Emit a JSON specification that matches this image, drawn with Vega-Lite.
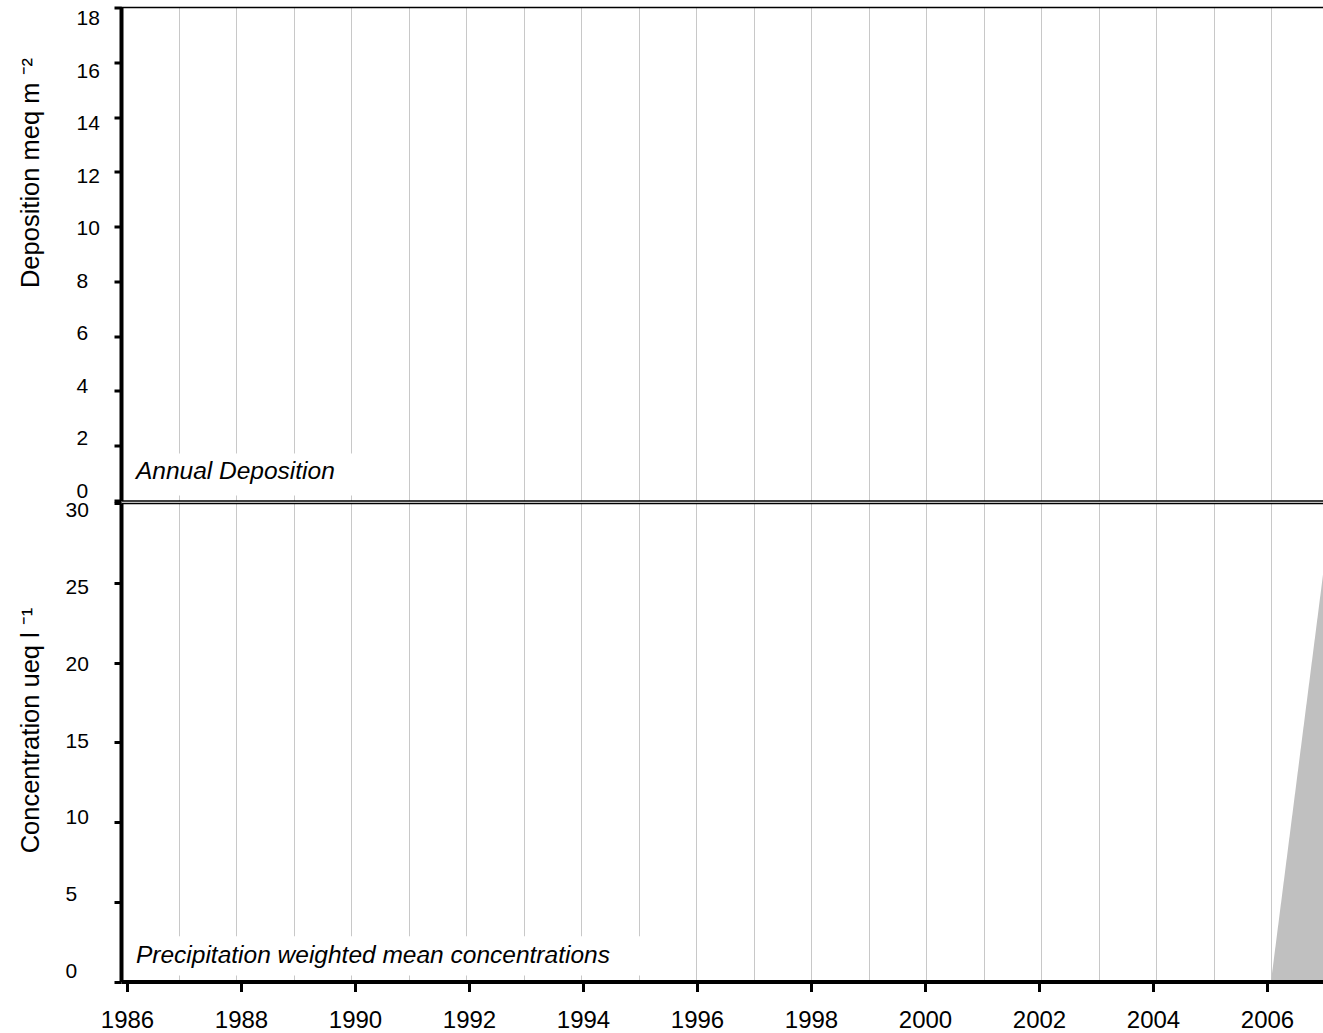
{
  "$schema": "https://vega.github.io/schema/vega-lite/v6.json",
  "autosize": {"type": "pad"},
  "padding": {"left": 18, "top": 5.5, "right": 0, "bottom": 0},
  "background": "white",
  "bounds": "flush",
  "datasets": {
    "concentration": [
      {"year": 2006, "value": 0},
      {"year": 2007, "value": 28.2}
    ],
    "notes": [
      {"panel": "deposition", "note": "Annual Deposition"},
      {"panel": "concentration", "note": "Precipitation weighted mean concentrations"}
    ]
  },
  "spacing": 2.5,
  "config": {
    "view": {"stroke": null},
    "font": "Liberation Sans",
    "axis": {
      "labelFont": "Liberation Sans",
      "titleFont": "Liberation Sans",
      "labelColor": "#000000",
      "titleColor": "#000000",
      "titleFontWeight": "normal",
      "domainColor": "#000000",
      "tickColor": "#000000",
      "gridColor": "#c8c8c8",
      "gridWidth": 1
    }
  },
  "vconcat": [
    {
      "width": 1203,
      "height": 493,
      "data": {"name": "notes"},
      "transform": [{"filter": "datum.panel == 'deposition'"}],
      "layer": [
        {
          "mark": {"type": "rect", "fill": "white"},
          "encoding": {
            "x": {
              "datum": 1986,
              "type": "quantitative",
              "scale": {"domain": [1986, 2006.9217], "nice": false, "zero": false},
              "axis": {
                "orient": "bottom",
                "values": [1986, 1987, 1988, 1989, 1990, 1991, 1992, 1993, 1994, 1995, 1996, 1997, 1998, 1999, 2000, 2001, 2002, 2003, 2004, 2005, 2006],
                "grid": true,
                "domain": true,
                "domainWidth": 1.3,
                "ticks": false,
                "labels": false,
                "title": null
              }
            },
            "x2": {"datum": 1990.15},
            "y": {
              "datum": 0.18,
              "type": "quantitative",
              "scale": {"domain": [0, 18], "nice": false},
              "axis": {
                "values": [0, 2, 4, 6, 8, 10, 12, 14, 16, 18],
                "grid": false,
                "domainWidth": 4,
                "tickSize": 7,
                "tickWidth": 3,
                "labelFontSize": 21,
                "labelAlign": "left",
                "labelBaseline": "middle",
                "labelPadding": 38,
                "labelOffset": {"expr": "-9.5 + 1.15 * datum.value"},
                "title": "Deposition meq m ⁻²",
                "titleFontSize": 25.5,
                "titleAngle": -90,
                "titleX": -83,
                "titleY": 165,
                "titleAlign": "center",
                "titleBaseline": "alphabetic",
                "zindex": 1
              }
            },
            "y2": {"datum": 1.72}
          }
        },
        {
          "mark": {"type": "rule", "color": "#000000", "strokeWidth": 1.5},
          "encoding": {"y": {"datum": 18, "type": "quantitative"}}
        },
        {
          "mark": {"type": "text", "align": "left", "baseline": "alphabetic", "fontStyle": "italic", "fontSize": 24.5, "font": "Liberation Sans", "color": "#000000"},
          "encoding": {
            "x": {"datum": 1986.26, "type": "quantitative"},
            "y": {"datum": 0.8, "type": "quantitative"},
            "text": {"field": "note"}
          }
        }
      ]
    },
    {
      "width": 1203,
      "height": 478.5,
      "layer": [
        {
          "layer": [
            {
              "data": {"name": "concentration"},
              "mark": {"type": "area", "color": "#c0c0c0", "clip": true},
              "encoding": {
                "x": {
                  "field": "year",
                  "type": "quantitative",
                  "scale": {"domain": [1986, 2006.9217], "nice": false, "zero": false},
                  "axis": {
                    "orient": "top",
                    "values": [1986, 1987, 1988, 1989, 1990, 1991, 1992, 1993, 1994, 1995, 1996, 1997, 1998, 1999, 2000, 2001, 2002, 2003, 2004, 2005, 2006],
                    "grid": true,
                    "domain": true,
                    "domainWidth": 1.3,
                    "ticks": false,
                    "labels": false,
                    "title": null
                  }
                },
                "y": {
                  "field": "value",
                  "type": "quantitative",
                  "stack": null,
                  "scale": {"domain": [0, 30], "nice": false},
                  "axis": {
                    "values": [0, 5, 10, 15, 20, 25, 30],
                    "grid": false,
                    "domainWidth": 4,
                    "tickSize": 7,
                    "tickWidth": 3,
                    "labelFontSize": 21,
                    "labelAlign": "left",
                    "labelBaseline": "middle",
                    "labelPadding": 49,
                    "labelOffset": {"expr": "-10 + 0.59 * datum.value"},
                    "title": "Concentration ueq l ⁻¹",
                    "titleFontSize": 25.5,
                    "titleAngle": -90,
                    "titleX": -83,
                    "titleY": 227,
                    "titleAlign": "center",
                    "titleBaseline": "alphabetic",
                    "zindex": 1
                  }
                }
              }
            },
            {
              "data": {"name": "notes"},
              "transform": [{"filter": "datum.panel == 'concentration'"}],
              "mark": {"type": "rect", "fill": "white"},
              "encoding": {
                "x": {"datum": 1986, "type": "quantitative"},
                "x2": {"datum": 1995.1},
                "y": {"datum": 0.375, "type": "quantitative"},
                "y2": {"datum": 2.84}
              }
            },
            {
              "data": {"name": "notes"},
              "transform": [{"filter": "datum.panel == 'concentration'"}],
              "mark": {"type": "text", "align": "left", "baseline": "alphabetic", "fontStyle": "italic", "fontSize": 24.5, "font": "Liberation Sans", "color": "#000000"},
              "encoding": {
                "x": {"datum": 1986.26, "type": "quantitative"},
                "y": {"datum": 1.19, "type": "quantitative"},
                "text": {"field": "note"}
              }
            }
          ]
        },
        {
          "data": {"name": "concentration"},
          "mark": {"type": "rule", "opacity": 0},
          "encoding": {
            "x": {
              "field": "year",
              "type": "quantitative",
              "scale": {"domain": [1985.8947, 2007], "nice": false, "zero": false},
              "axis": {
                "orient": "bottom",
                "values": [1986, 1988, 1990, 1992, 1994, 1996, 1998, 2000, 2002, 2004, 2006],
                "format": "d",
                "grid": false,
                "domainWidth": 4,
                "tickSize": 10,
                "tickWidth": 3,
                "labelFontSize": 24,
                "labelPadding": 17,
                "labelFlush": false,
                "labelOverlap": false,
                "title": null,
                "zindex": 1
              }
            }
          }
        }
      ],
      "resolve": {"scale": {"x": "independent"}, "axis": {"x": "independent"}}
    }
  ]
}
